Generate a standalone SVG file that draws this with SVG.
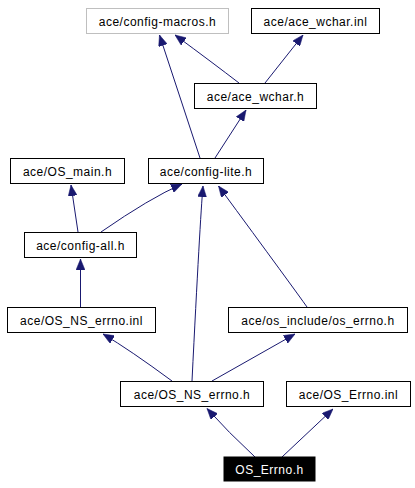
<svg xmlns="http://www.w3.org/2000/svg" width="415" height="488" viewBox="0 0 415 488">
<style>
.n rect{fill:#fff;stroke:#000;stroke-width:1}
.n text{font-family:"Liberation Sans",Arial,sans-serif;font-size:12px;letter-spacing:0.5px;text-anchor:middle;fill:#000}
.g rect{stroke:#bfbfbf}
.h rect{fill:#000;stroke:#000}
.h text{fill:#fff}
.e path{fill:none;stroke:#191970;stroke-width:1;marker-end:url(#a)}
</style>
<defs>
<marker id="a" markerUnits="userSpaceOnUse" markerWidth="11" markerHeight="9" refX="11" refY="4.5" orient="auto" viewBox="0 0 11 9">
<path d="M0,0 L11,4.5 L0,9 z" fill="#191970" stroke="#191970" stroke-width="0.5"/>
</marker>
</defs>
<rect width="415" height="488" fill="#fff"/>
<g id="edges" class="e">
<path d="M200,158 L159.5,35"/>
<path d="M239,83 Q213,63 175,35"/>
<path d="M265,83 L303,35"/>
<path d="M215,158 L246,110"/>
<path d="M78,232 L71,185"/>
<path d="M101,232 Q150,198 182,184"/>
<path d="M192,381 Q200,220 203,186"/>
<path d="M307,307 Q295,290 218.5,186"/>
<path d="M80.5,307 L80.5,259"/>
<path d="M172,381 Q130,350 103,334"/>
<path d="M212,381 L295,334"/>
<path d="M255,457 Q228,432 207,408.5"/>
<path d="M282,457 L333,409"/>
</g>
<g id="config-macros" class="n g"><rect x="86.5" y="8.5" width="142" height="25"/><text x="157.5" y="25.5">ace/config-macros.h</text></g>
<g id="ace_wchar_inl" class="n"><rect x="251.5" y="8.5" width="128" height="25"/><text x="315.5" y="25.5">ace/ace_wchar.inl</text></g>
<g id="ace_wchar_h" class="n"><rect x="194.5" y="83.5" width="122" height="25"/><text x="255.5" y="100.5">ace/ace_wchar.h</text></g>
<g id="OS_main" class="n"><rect x="10.5" y="158.5" width="114" height="25"/><text x="67.5" y="175.5">ace/OS_main.h</text></g>
<g id="config-lite" class="n"><rect x="148.5" y="158.5" width="115" height="25"/><text x="206" y="175.5">ace/config-lite.h</text></g>
<g id="config-all" class="n"><rect x="24.5" y="232.5" width="112" height="25"/><text x="80.5" y="249.5">ace/config-all.h</text></g>
<g id="OS_NS_errno_inl" class="n"><rect x="7.5" y="307.5" width="148" height="25"/><text x="81.5" y="324.5">ace/OS_NS_errno.inl</text></g>
<g id="os_errno" class="n"><rect x="228.5" y="307.5" width="179" height="25"/><text x="318" y="324.5">ace/os_include/os_errno.h</text></g>
<g id="OS_NS_errno_h" class="n"><rect x="120.5" y="381.5" width="143" height="25"/><text x="192" y="398.5">ace/OS_NS_errno.h</text></g>
<g id="OS_Errno_inl" class="n"><rect x="286.5" y="381.5" width="124" height="25"/><text x="348.5" y="398.5">ace/OS_Errno.inl</text></g>
<g id="OS_Errno_h" class="n h"><rect x="224" y="457" width="91" height="24"/><text x="269.5" y="473.5">OS_Errno.h</text></g>
</svg>
